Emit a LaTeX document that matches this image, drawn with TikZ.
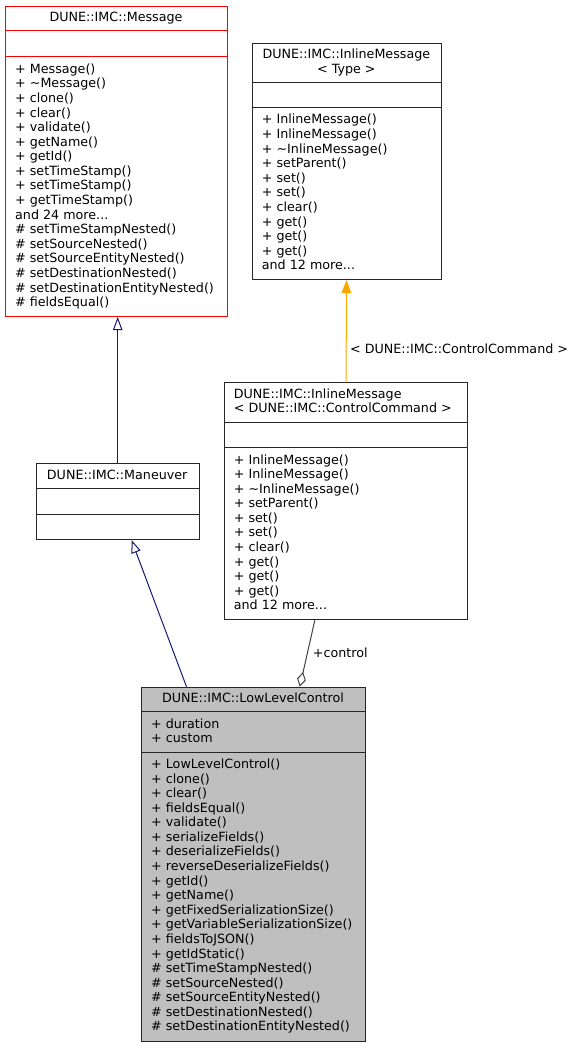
\documentclass[tikz,border=0pt]{standalone}
\usepackage{fontspec}
\setmainfont{DejaVu Sans}
\usepackage{tikz}
\usetikzlibrary{arrows.meta}
\definecolor{edgenavy}{HTML}{191970}
\definecolor{tmplorange}{HTML}{FFA500}
\definecolor{aggrgray}{HTML}{404040}
\definecolor{curgray}{HTML}{BFBFBF}
\newcommand{\moreitems}[1]{and #1 more...}
\tikzset{
  classbox/.style={draw=black!85, line width=1pt, inner sep=0, anchor=north west},
  member/.style={anchor=base west, inner sep=0},
  title/.style={anchor=base, inner sep=0},
  inherit/.style={draw=edgenavy, line width=1pt, -{Triangle[length=13pt, width=9.5pt, fill=white]}},
  tmpl/.style={draw=tmplorange, line width=1pt, -{Triangle[length=13pt, width=9.5pt]}},
  aggr/.style={draw=aggrgray, line width=1pt, -{Diamond[length=15pt, width=9pt, fill=white]}}
}
\begin{document}
\begin{tikzpicture}[x=1pt, y=-1pt, font=\fontsize{12.7}{14.58}\selectfont]
	\useasboundingbox (0,0) rectangle (576,1048);
	% DUNE::IMC::Message
	\node[classbox, draw=red, minimum width=222pt, minimum height=310pt] (msg) at (5,6) {};
	\draw[draw=red, line width=1pt] (5,31) -- (227,31) (5,57) -- (227,57);
	\node[title] (msgt) at (116,22) {DUNE::IMC::Message};
	\foreach \m [count=\i from 0] in {+ Message(), + \textasciitilde Message(), + clone(), + clear(), + validate(), + getName(), + getId(), + setTimeStamp(), + setTimeStamp(), + getTimeStamp(), \moreitems{24}, \# setTimeStampNested(), \# setSourceNested(), \# setSourceEntityNested(), \# setDestinationNested(), \# setDestinationEntityNested(), \# fieldsEqual()}
		\node[member] (msgm\i) at (15,73.3+14.58*\i) {\m};
	% DUNE::IMC::InlineMessage< Type >
	\node[classbox, minimum width=189.3pt, minimum height=236.3pt] (inltype) at (251.7,42.7) {};
	\draw[draw=black!85, line width=1pt] (251.7,82.3) -- (441,82.3) (251.7,107.7) -- (441,107.7);
	\node[title] (inltypet) at (346.35,58.7) {DUNE::IMC::InlineMessage};
	\node[title] (inltypeu) at (346.35,73.3) {< Type >};
	\foreach \m [count=\i from 0] in {+ InlineMessage(), + InlineMessage(), + \textasciitilde InlineMessage(), + setParent(), + set(), + set(), + clear(), + get(), + get(), + get(), \moreitems{12}}
		\node[member] (inltypem\i) at (261.7,124+14.58*\i) {\m};
	% DUNE::IMC::InlineMessage< DUNE::IMC::ControlCommand >
	\node[classbox, minimum width=243pt, minimum height=237pt] (inlcc) at (223.7,382.3) {};
	\draw[draw=black!85, line width=1pt] (223.7,422.3) -- (466.7,422.3) (223.7,447.7) -- (466.7,447.7);
	\node[member] (inlcct) at (233.7,398.3) {DUNE::IMC::InlineMessage};
	\node[member] (inlccu) at (233.7,412.9) {< DUNE::IMC::ControlCommand >};
	\foreach \m [count=\i from 0] in {+ InlineMessage(), + InlineMessage(), + \textasciitilde InlineMessage(), + setParent(), + set(), + set(), + clear(), + get(), + get(), + get(), \moreitems{12}}
		\node[member] (inlccm\i) at (233.7,464+14.58*\i) {\m};
	% DUNE::IMC::Maneuver
	\node[classbox, minimum width=163pt, minimum height=76pt] (man) at (35.7,463) {};
	\draw[draw=black!85, line width=1pt] (35.7,488.7) -- (198.7,488.7) (35.7,514) -- (198.7,514);
	\node[title] (mant) at (117.2,479) {DUNE::IMC::Maneuver};
	% DUNE::IMC::LowLevelControl
	\node[classbox, fill=curgray, minimum width=224pt, minimum height=353.8pt] (llc) at (141,686.7) {};
	\draw[draw=black!85, line width=1pt] (141,711.7) -- (365,711.7) (141,752.3) -- (365,752.3);
	\node[title] (llct) at (253,702.7) {DUNE::IMC::LowLevelControl};
	\node[member] (llca0) at (151,728) {+ duration};
	\node[member] (llca1) at (151,742.6) {+ custom};
	\foreach \m [count=\i from 0] in {+ LowLevelControl(), + clone(), + clear(), + fieldsEqual(), + validate(), + serializeFields(), + deserializeFields(), + reverseDeserializeFields(), + getId(), + getName(), + getFixedSerializationSize(), + getVariableSerializationSize(), + fieldsToJSON(), + getIdStatic(), \# setTimeStampNested(), \# setSourceNested(), \# setSourceEntityNested(), \# setDestinationNested(), \# setDestinationEntityNested()}
		\node[member] (llcm\i) at (151,768.5+14.58*\i) {\m};
	% relations
	\draw[inherit] ([xshift=-67pt]llc.north) to ([xshift=13.8pt]man.south);
	\draw[inherit] (man.north) to (man.north |- msg.south);
	\draw[tmpl] (inlcc) to node [pos=0.28, anchor=base west, inner sep=0, xshift=3.5pt] {< DUNE::IMC::ControlCommand >} (inltype);
	\draw[aggr] ([xshift=-30.9pt]inlcc.south) to node [pos=0.555, anchor=base west, inner sep=0, xshift=6pt] {+control} ([xshift=46.3pt]llc.north);
\end{tikzpicture}
\end{document}
